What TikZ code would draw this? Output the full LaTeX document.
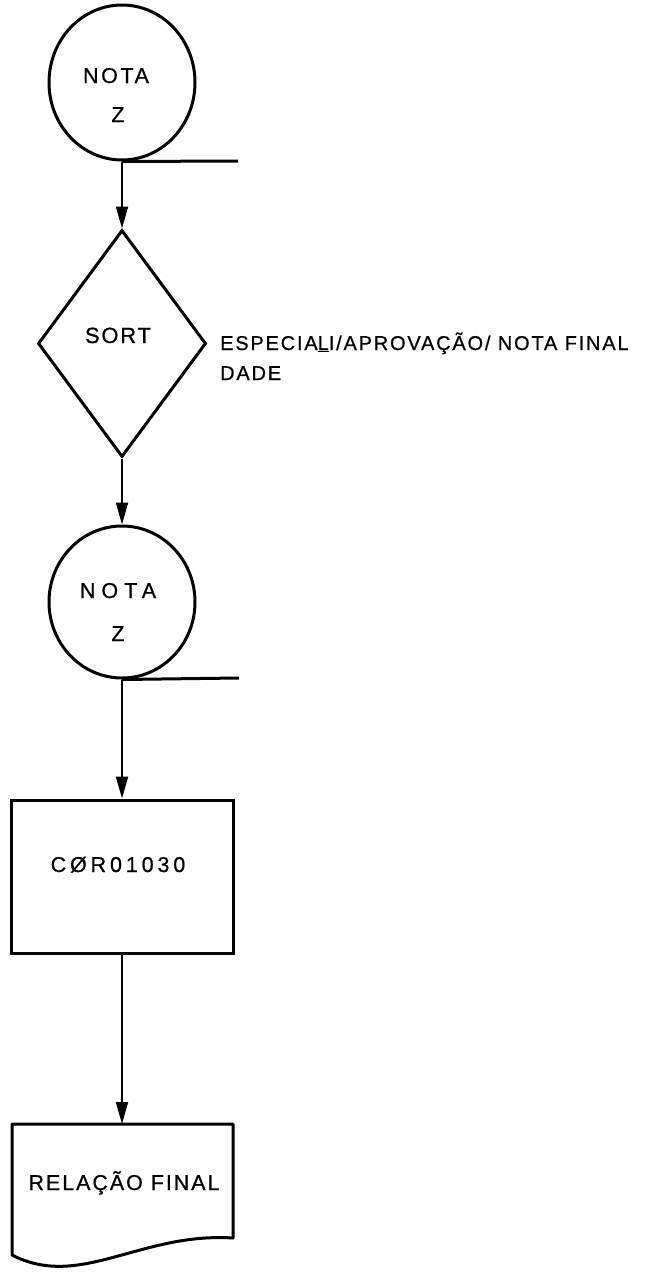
\documentclass[tikz,border=0pt]{standalone}
\usepackage{fontspec}
\setmainfont[FakeBold=0.7]{Liberation Sans}
\usetikzlibrary{shapes.geometric,arrows.meta}
\begin{document}
\begin{tikzpicture}[x=1pt,y=-1pt,
  shapeline/.style={draw=black,line width=3pt,inner sep=0pt},
  conn/.style={line width=2pt,-{Triangle[length=22pt,width=12pt]}},
  tail/.style={line width=3pt},
  txt/.style={inner sep=0pt,anchor=base,font=\fontsize{21.5}{25}\selectfont}
]
\useasboundingbox (0,0) rectangle (646,1277);
% shapes
\node[shapeline,ellipse,minimum width=146pt,minimum height=155pt] (c1) at (122,82.5) {};
\node[shapeline,diamond,minimum width=168pt,minimum height=227pt] (d1) at (122,343.5) {};
\node[shapeline,ellipse,minimum width=146pt,minimum height=152pt] (c2) at (122,602) {};
\node[shapeline,rectangle,minimum width=222pt,minimum height=153pt] (r1) at (122,876.5) {};
\coordinate (doctop) at (122,1124);
\draw[line width=3pt,line join=round] (12,1124) -- (233,1124) -- (233,1238)
  .. controls (140,1232) and (80,1290) .. (12,1255) -- cycle;
% tails
\coordinate (t1) at (238,161);
\coordinate (t2) at (239,678);
\draw[tail] (c1.south) -- (t1);
\draw[tail] (c2.south) -- (t2);
% connectors
\draw[conn] (c1.south) -- (d1.north);
\draw[conn] (d1.south) -- (c2.north);
\draw[conn] (c2.south) -- (r1.north);
\draw[conn] (r1.south) -- (doctop);
% texts
\node[txt] (n1a) at (116,83) {\addfontfeature{LetterSpace=12}NOTA};
\node[txt] (n1b) at (118,122) {Z};
\node[txt,font=\fontsize{22}{26}\selectfont] (s1) at (118,343) {\addfontfeature{LetterSpace=8}SORT};
\node[txt,anchor=base west,font=\fontsize{20}{24}\selectfont] (lab1) at (220,350) {\addfontfeature{LetterSpace=9}ESPECIA\underline{L}I/APROVAÇÃO/ NOTA FINAL};
\node[txt,anchor=base west,font=\fontsize{20}{24}\selectfont] (lab2) at (220,380) {\addfontfeature{LetterSpace=9}DADE};
\node[txt] (n2a) at (118,598) {\addfontfeature{LetterSpace=28}NOTA};
\node[txt] (n2b) at (118,641) {Z};
\node[txt] (p1) at (118,872) {\addfontfeature{LetterSpace=18}CØR01030};
\node[txt] (rel) at (124,1190) {\addfontfeature{LetterSpace=9}RELAÇÃO FINAL};
\end{tikzpicture}
\end{document}
